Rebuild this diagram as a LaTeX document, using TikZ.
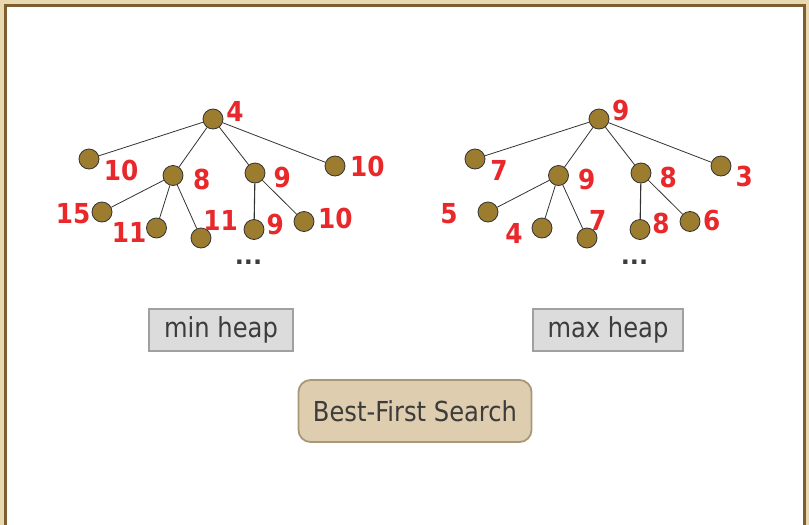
\documentclass[tikz,border=0pt]{standalone}
\usepackage{fontspec}
\setmainfont{DejaVu Sans}
\newfontfamily\boxfont[FakeStretch=0.88]{DejaVu Sans}
\newfontfamily\numfont[FakeStretch=0.9]{DejaVu Sans Bold}
\newfontfamily\dotfont{DejaVu Sans Bold}
\definecolor{beige}{HTML}{E8D9B0}
\definecolor{framebrown}{HTML}{7E5E2E}
\definecolor{nodebrown}{HTML}{9C7D30}
\definecolor{numred}{HTML}{E8282B}
\definecolor{txtgray}{HTML}{3C3C3C}
\definecolor{boxgray}{HTML}{DCDCDC}
\definecolor{boxedge}{HTML}{A0A0A0}
\definecolor{bfsfill}{HTML}{DFCDAF}
\definecolor{bfsedge}{HTML}{A89878}
\tikzset{
  tnode/.style={circle, fill=nodebrown, draw=black!80, line width=0.8pt, minimum size=20pt, inner sep=0pt},
  tedge/.style={draw=black!80, line width=0.8pt},
  num/.style={text=numred, inner sep=0pt, font=\numfont\fontsize{27.5}{27.5}\selectfont},
  dots/.style={text=txtgray, inner sep=0pt, font=\dotfont\fontsize{24}{24}\selectfont},
  heapbox/.style={fill=boxgray, draw=boxedge, line width=2pt, inner sep=0pt, text=txtgray, font=\boxfont\fontsize{27.5}{27.5}\selectfont},
  bfsbox/.style={fill=bfsfill, draw=bfsedge, line width=1.8pt, rounded corners=12pt, inner sep=0pt, text=txtgray, font=\boxfont\fontsize{27.5}{27.5}\selectfont}
}
\begin{document}
\begin{tikzpicture}[x=1pt,y=-1pt]
\useasboundingbox (0,0) rectangle (809,525);
% frame
\fill[beige] (0,0) rectangle (809,525);
\fill[framebrown] (4,4) rectangle (806.3,525);
\fill[white] (7,7) rectangle (803.3,525);

% ---------- min heap tree ----------
\node[tnode] (a) at (213,119) {};
\node[tnode] (a1) at (89,159) {};
\node[tnode] (a2) at (173,175.5) {};
\node[tnode] (a3) at (255,173) {};
\node[tnode] (a4) at (335,166) {};
\node[tnode] (a21) at (102,212) {};
\node[tnode] (a22) at (156.5,228) {};
\node[tnode] (a23) at (201,238) {};
\node[tnode] (a31) at (254,229.5) {};
\node[tnode] (a32) at (304,221.5) {};
\draw[tedge] (a) -- (a1);
\draw[tedge] (a) -- (a2);
\draw[tedge] (a) -- (a3);
\draw[tedge] (a) -- (a4);
\draw[tedge] (a2) -- (a21);
\draw[tedge] (a2) -- (a22);
\draw[tedge] (a2) -- (a23);
\draw[tedge, line width=1.1pt] (a3) -- (a31);
\draw[tedge] (a3) -- (a32);
\node[num] (la) at (235,111.7) {4};
\node[num] (la1) at (121,170) {10};
\node[num] (la2) at (201.7,179.3) {8};
\node[num] (la3) at (282.3,177.3) {9};
\node[num] (la4) at (367.3,166.3) {10};
\node[num] (la21) at (73,213.3) {15};
\node[num] (la22) at (129,232.7) {11};
\node[num] (la23) at (220.7,220) {11};
\node[num] (la31) at (275.3,224) {9};
\node[num] (la32) at (335.3,218.3) {10};
\node[dots] (da) at (248.5,262) {...};

% ---------- max heap tree ----------
\node[tnode] (b) at (599,119) {};
\node[tnode] (b1) at (475,159) {};
\node[tnode] (b2) at (558.5,175.5) {};
\node[tnode] (b3) at (641,173) {};
\node[tnode] (b4) at (721,166) {};
\node[tnode] (b21) at (488,212) {};
\node[tnode] (b22) at (542,228) {};
\node[tnode] (b23) at (587,238) {};
\node[tnode] (b31) at (640,229.5) {};
\node[tnode] (b32) at (690,221.5) {};
\draw[tedge] (b) -- (b1);
\draw[tedge] (b) -- (b2);
\draw[tedge] (b) -- (b3);
\draw[tedge] (b) -- (b4);
\draw[tedge] (b2) -- (b21);
\draw[tedge] (b2) -- (b22);
\draw[tedge] (b2) -- (b23);
\draw[tedge, line width=1.1pt] (b3) -- (b31);
\draw[tedge] (b3) -- (b32);
\node[num] (lb) at (620.7,110.7) {9};
\node[num] (lb1) at (499,170.7) {7};
\node[num] (lb2) at (586.7,179.3) {9};
\node[num] (lb3) at (668.3,177.3) {8};
\node[num] (lb4) at (744.3,176) {3};
\node[num] (lb21) at (449,213.3) {5};
\node[num] (lb22) at (514,233.3) {4};
\node[num] (lb23) at (597.7,220) {7};
\node[num] (lb31) at (661,223.3) {8};
\node[num] (lb32) at (711.7,220) {6};
\node[dots] (db) at (634.5,262) {...};

% ---------- boxes ----------
\node[heapbox, minimum width=143.4pt, minimum height=42.6pt] (minh) at (221,330) {min heap};
\node[heapbox, minimum width=149.4pt, minimum height=42.6pt] (maxh) at (608,330) {max heap};
\node[bfsbox, minimum width=233pt, minimum height=62pt] (bfs) at (415,411) {Best-First Search};
\end{tikzpicture}
\end{document}
